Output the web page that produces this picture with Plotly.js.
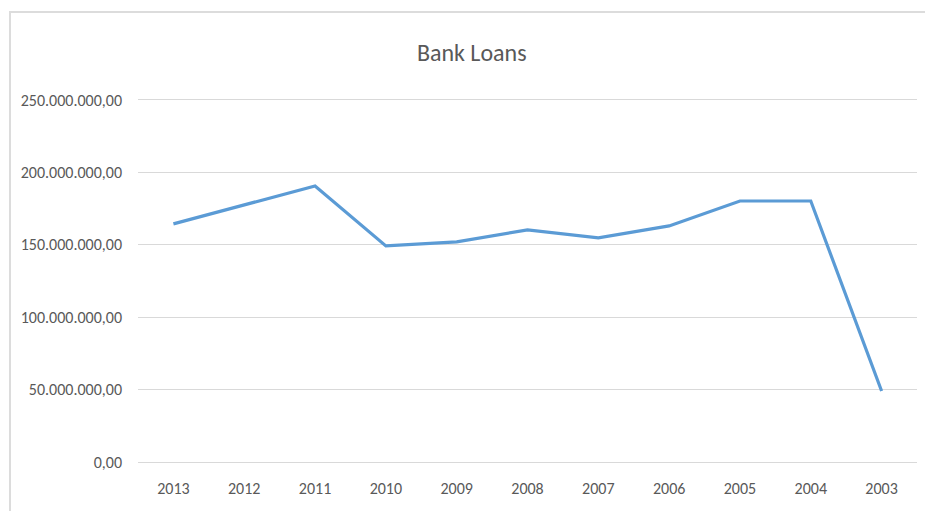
<!DOCTYPE html>
<html>
<head>
<meta charset="utf-8">
<script src="https://cdn.plot.ly/plotly-3.0.1.min.js"></script>
<style>
  html, body { margin: 0; padding: 0; background: #fff; }
  #chart { position: absolute; left: 0; top: 0; width: 925px; height: 511px; }
  #frame { position: absolute; left: 9px; top: 11px; width: 930px; height: 520px;
           border-left: 2px solid #dcdcdc; border-top: 2px solid #dcdcdc; pointer-events: none; }
</style>
</head>
<body>
<div id="chart"></div>
<div id="frame"></div>
<script>
const years = ["2013", "2012", "2011", "2010", "2009", "2008", "2007", "2006", "2005", "2004", "2003"];
const bankLoans = [164400000, 177500000, 190600000, 149200000, 152000000, 160200000, 154700000, 163000000, 180200000, 180200000, 49000000];
const yTicks = [0, 50000000, 100000000, 150000000, 200000000, 250000000];

const font = "Carlito, Lato, 'Open Sans', sans-serif";

Plotly.newPlot("chart", [{
  type: "scatter",
  mode: "lines",
  x: years,
  y: bankLoans,
  line: { color: "#5B9BD5", width: 3.2 },
  hoverinfo: "skip"
}], {
  width: 925,
  height: 511,
  paper_bgcolor: "rgba(0,0,0,0)",
  plot_bgcolor: "rgba(0,0,0,0)",
  separators: ",.",
  margin: { l: 137.5, r: 7.5, t: 97.1, b: 49 },
  showlegend: false,
  title: {
    text: "Bank Loans",
    font: { family: font, size: 24, color: "#595959" },
    xref: "container", x: 0.51, xanchor: "center",
    yref: "container", y: 0.898, yanchor: "middle"
  },
  xaxis: {
    type: "category",
    range: [-0.5, 10.5],
    showgrid: false,
    showline: false,
    zeroline: false,
    ticks: "",
    ticklabelstandoff: 15,
    tickfont: { family: font, size: 16, color: "#595959" }
  },
  yaxis: {
    range: [0, 252000000],
    tickvals: yTicks,
    tickformat: ",.2f",
    showgrid: true,
    gridcolor: "#d9d9d9",
    gridwidth: 1,
    zeroline: true,
    zerolinecolor: "#d9d9d9",
    zerolinewidth: 1,
    showline: false,
    ticks: "",
    ticklabelstandoff: 15,
    tickfont: { family: font, size: 16, color: "#595959" }
  }
}, { displayModeBar: false, staticPlot: true });
</script>
</body>
</html>
